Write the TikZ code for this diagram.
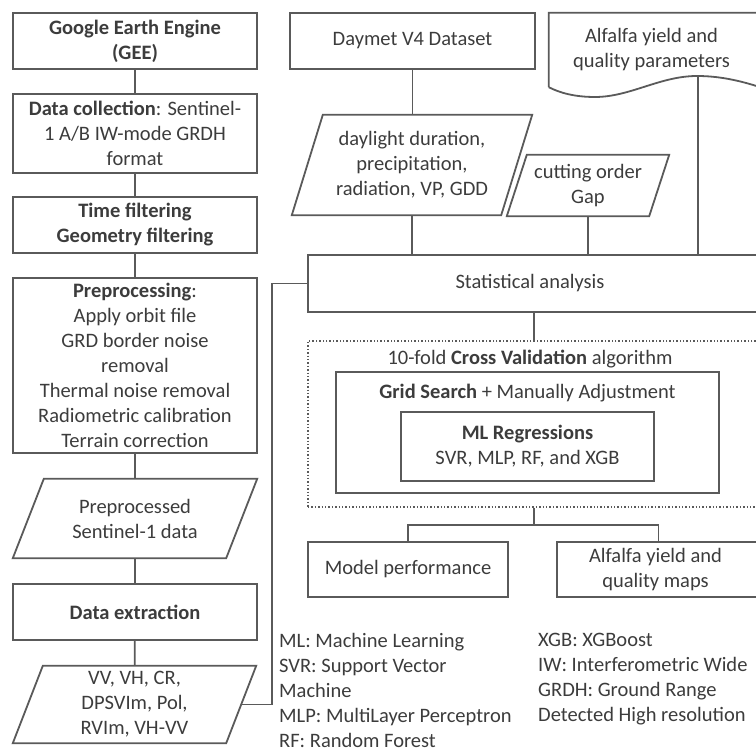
\documentclass[tikz,border=0pt]{standalone}
\usepackage{fontspec}
\setmainfont{Carlito}
\definecolor{linegray}{HTML}{5A5A5A}
\definecolor{textgray}{HTML}{3C3C3C}
% slanted frame round a plain node
\newcommand{\slantframe}[2]{\draw[link] ([xshift=#2]#1.north west) -- (#1.north east) -- ([xshift=-#2]#1.south east) -- (#1.south west) -- cycle;}

\begin{document}
\begin{tikzpicture}[x=1pt, y=-1pt,
        font=\fontsize{20.5}{25}\selectfont, text=textgray,
        link/.style={draw=linegray, line width=1.8pt},
        box/.style={rectangle, link, inner sep=0pt, align=center},
        databox/.style={rectangle, inner sep=0pt, align=center},
        legend/.style={anchor=west, inner sep=0pt, align=left}
    ]
        \clip (0,0) rectangle (756,751);
        % left column
        \node[box, minimum width=244pt, minimum height=56pt] (gee) at (135,41)
            {\textbf{Google Earth Engine}\\\textbf{(GEE)}};
        \node[box, minimum width=244pt, minimum height=79pt] (collect) at (135,133.5)
            {\textbf{Data collection}: Sentinel-\\1 A/B IW-mode GRDH\\format};
        \node[box, minimum width=244pt, minimum height=56pt] (filter) at (135,225)
            {\textbf{Time filtering}\\\textbf{Geometry filtering}};
        \node[box, minimum width=244pt, minimum height=175pt] (prep) at (135,365.5)
            {\textbf{Preprocessing}:\\Apply orbit file\\GRD border noise\\removal\\Thermal noise removal\\Radiometric calibration\\Terrain correction};
        \node[databox, minimum width=244pt, minimum height=79pt] (prepdata) at (135,518.5)
            {Preprocessed\\Sentinel-1 data};
        \slantframe{prepdata}{31pt}
        \node[box, minimum width=244pt, minimum height=56pt] (extract) at (135,612)
            {\textbf{Data extraction}};
        \node[databox, minimum width=243pt, minimum height=77pt] (features) at (134.5,704.5)
            {VV, VH, CR,\\DPSVIm, Pol,\\RVIm, VH-VV};
        \slantframe{features}{30pt}

        % inputs on the right
        \node[box, minimum width=245pt, minimum height=56pt] (daymet) at (412.5,41)
            {Daymet V4 Dataset};
        \node[databox, minimum width=240pt, minimum height=100pt] (climate) at (412,165)
            {daylight duration,\\precipitation,\\radiation, VP, GDD};
        \slantframe{climate}{31pt}
        \node[databox, minimum width=162pt, minimum height=61pt] (cutting) at (588,185.5)
            {cutting order\\Gap};
        \slantframe{cutting}{20pt}
        \node[databox, minimum width=211pt, minimum height=74pt] (params) at (654.5,50)
            {\hspace*{-6pt}Alfalfa yield and\\\hspace*{-6pt}quality parameters};
        \draw[link] (params.south west) -- (params.north west) -- (params.north east) -- (params.south east)
            .. controls (738,80) and (718,76) .. (697,76)
            .. controls (660,76) and (630,97) .. (595,97)
            .. controls (575,97) and (560,93) .. (params.south west);
        \coordinate (wavetop) at (698,76.5);

        % analysis
        \node[box, minimum width=452pt, minimum height=57pt] (stat) at (534,283.5)
            {\hspace*{-8pt}Statistical analysis};
        \node[rectangle, draw=linegray, line width=1.4pt, dotted, minimum width=452pt, minimum height=166pt] (cv) at (534,424) {};
        \node (cvtext) at (530,359) {10-fold \textbf{Cross Validation} algorithm};
        \node[box, minimum width=383pt, minimum height=121pt] (grid) at (527.5,432.5) {};
        \node (gridtext) at (527.5,393) {\textbf{Grid Search} + Manually Adjustment};
        \node[box, minimum width=253pt, minimum height=69pt] (ml) at (527.5,446.5)
            {\textbf{ML Regressions}\\SVR, MLP, RF, and XGB};
        \node[box, minimum width=200pt, minimum height=55pt] (model) at (408,569.5)
            {Model performance};
        \node[box, minimum width=203pt, minimum height=55pt] (maps) at (658.5,569.5)
            {\hspace*{-6pt}Alfalfa yield and\\\hspace*{-6pt}quality maps};

        % connectors
        \draw[link] (gee) -- (collect);
        \draw[link] (collect) -- (filter);
        \draw[link] (filter) -- (prep);
        \draw[link] (prep) -- (prepdata);
        \draw[link] (prepdata) -- (extract);
        \draw[link] (extract) -- (features);
        \draw[link] ([xshift=-15pt]features.east) -- ++(31,0) |- (stat.west);
        \draw[link] (daymet.south) -- (daymet.south |- climate.north);
        \draw[link] (climate.south) -- (climate.south |- stat.north);
        \draw[link] (cutting.south) -- (cutting.south |- stat.north);
        \draw[link] (wavetop) -- (wavetop |- stat.north);
        \draw[link] (stat) -- (cv);
        \draw[link] (cv.south) -- ++(0,17) -| (model.north);
        \draw[link] (cv.south) ++(0,17) -| (maps.north);

        % abbreviations
        \node[legend] (abbrleft) at (279,690)
            {ML: Machine Learning\\SVR: Support Vector\\Machine\\MLP: MultiLayer Perceptron\\RF: Random Forest};
        \node[legend] (abbrright) at (538,679)
            {XGB: XGBoost\\IW: Interferometric Wide\\GRDH: Ground Range\\Detected High resolution};
    \end{tikzpicture}
\end{document}
